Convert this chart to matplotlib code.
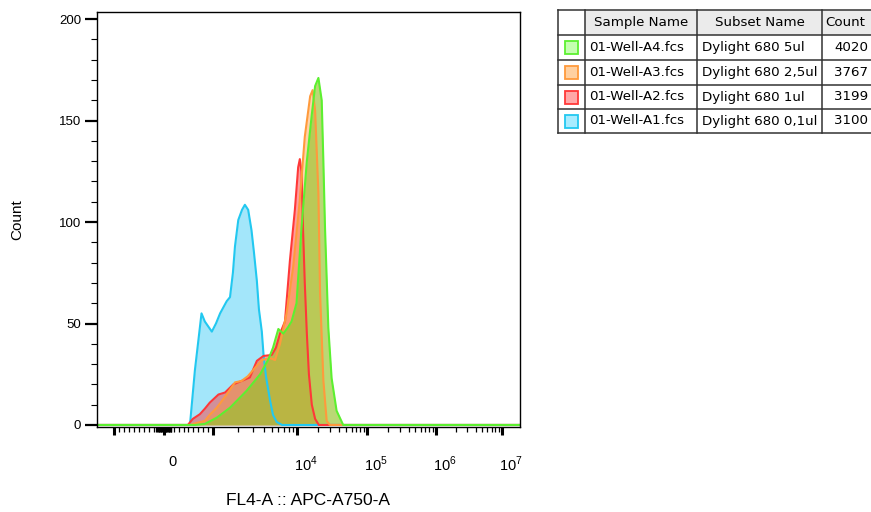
import numpy as np
import matplotlib.pyplot as plt
from matplotlib.transforms import ScaledTranslation
from matplotlib.patches import Rectangle

plt.rcParams['font.family'] = ['Liberation Sans', 'DejaVu Sans']
plt.rcParams['mathtext.fontset'] = 'custom'
plt.rcParams['mathtext.rm'] = 'Liberation Sans'

# x values are display channels (0-1024) of the biexponential FL4-A axis
a1_x = [0, 225, 237, 253, 261, 278, 288, 298, 314, 322, 329, 334, 342, 351, 358, 366, 374, 380, 387, 392, 399, 403, 409, 419, 426, 435, 448, 1024]
a1_y = [0, 0, 27, 55, 51, 46, 50, 55, 61, 63, 75, 88, 101, 106, 108.5, 106, 96, 85, 71, 57, 46, 35, 24, 12, 5, 1.5, 0, 0]

a2_x = [0, 220, 232, 249, 261, 273, 294, 310, 330, 350, 370, 387, 403, 423, 433, 443, 455, 467, 479, 487, 491, 495, 499, 503, 508, 513, 520, 528, 537, 1024]
a2_y = [0, 0, 3, 5.3, 8, 11, 15, 16, 20, 21.7, 23.4, 31.6, 34, 34.5, 38, 45, 51, 81, 106, 127, 131, 125, 95, 70, 45, 25, 10, 3, 0, 0]

a3_x = [0, 225, 242, 261, 273, 290, 314, 334, 350, 365, 382, 399, 419, 431, 443, 459, 475, 491, 503, 516, 522, 528, 536, 540, 548, 556, 564, 1024]
a3_y = [0, 0, 1, 2, 5, 8.5, 15, 21, 21.7, 24, 28, 32, 33, 32, 40, 55, 78, 111, 142, 162, 165, 155, 114, 65, 22, 2, 0, 0]

a4_x = [0, 237, 261, 290, 322, 362, 395, 415, 426, 439, 451, 462, 471, 483, 495, 508, 520, 528, 536, 544, 548, 552, 560, 568, 580, 596, 1024]
a4_y = [0, 0, 0.5, 3.6, 8.5, 16.8, 25, 32.4, 38, 47.3, 45, 48, 51, 60, 97, 130, 153, 167, 171, 160, 130, 97, 48, 23, 7, 0, 0]

samples = ['01-Well-A4.fcs', '01-Well-A3.fcs', '01-Well-A2.fcs', '01-Well-A1.fcs']
subsets = ['Dylight 680 5ul', 'Dylight 680 2,5ul', 'Dylight 680 1ul', 'Dylight 680 0,1ul']
counts = [4020, 3767, 3199, 3100]
line_colors = ['#5CF030', '#FF9A3C', '#FF3838', '#22C8F0']
fill_colors = ['#96C42C', '#FF9632', '#FF3C3C', '#40CCF5']
fill_alpha = [0.65, 0.42, 0.5, 0.48]
swatch_colors = ['#C4FFB0', '#FFD0A0', '#FFA8A8', '#A8ECFF']

# biexponential axis: major ticks (-10^3, 0, 10^3 ... 10^7) in channels
major_ch = [41, 162, 281, 484, 654, 821, 980]
major_labels = ['', '0', '', '$10^4$', '$10^5$', '$10^6$', '$10^7$']

minor_ch = list(np.linspace(41, 162, 11)[1:-1]) + list(np.linspace(162, 281, 11)[1:-1])
minor_ch += list(np.arange(144, 182, 2))
for lo, hi in zip(major_ch[2:-1], major_ch[3:]):
    minor_ch += [lo + (hi - lo) * np.log10(k) for k in range(2, 10)]

fig = plt.figure(figsize=(8.71, 5.12), dpi=100)
ax = fig.add_axes([97 / 871, 1 - 427 / 512, 423 / 871, 415 / 512])

series = [(a1_x, a1_y, 3), (a2_x, a2_y, 2), (a3_x, a3_y, 1), (a4_x, a4_y, 0)]
for x, y, i in series:
    ax.fill_between(x, y, 0, color=fill_colors[i], alpha=fill_alpha[i], lw=0)
    ax.plot(x, y, color=line_colors[i], lw=1.5)

ax.set_xlim(0, 1024)
ax.set_ylim(-1, 203.5)
ax.set_xticks(major_ch)
ax.set_xticklabels(major_labels, fontsize=10.5)
ax.set_xticks(minor_ch, minor=True)
ax.set_yticks([0, 50, 100, 150, 200])
ax.set_yticks(np.arange(0, 201, 10), minor=True)
ax.tick_params(axis='y', which='major', length=8.5, width=1.6, labelsize=9.5, pad=3)
ax.tick_params(axis='y', which='minor', length=4.5, width=0.8)
ax.tick_params(axis='x', which='major', length=6, width=2.2, pad=14)
ax.tick_params(axis='x', which='minor', length=3.5, width=0.9)
off = ScaledTranslation(0.09, 0, fig.dpi_scale_trans)
for lab in ax.get_xticklabels():
    lab.set_transform(lab.get_transform() + off)
for s in ax.spines.values():
    s.set_linewidth(1.0)

ax.set_ylabel('Count', fontsize=11)
ax.yaxis.set_label_coords(-0.172, 0.5)
ax.set_xlabel('FL4-A :: APC-A750-A', fontsize=12.5)
ax.xaxis.set_label_coords(0.5, -0.16)

# legend table
tb = fig.add_axes([558 / 871, 1 - 133 / 512, 330 / 871, 123 / 512])
tb.set_xlim(0, 330)
tb.set_ylim(123, 0)
tb.axis('off')
rows = [0, 25, 50, 75, 99, 123]
cols = [0, 27, 139, 264, 330]
tb.add_patch(Rectangle((27, 0), 303, 25, color='#EBEBEB', lw=0))
for r in rows:
    tb.plot([0, 330], [r, r], color='#333333', lw=1.1, clip_on=False)
for c in cols:
    tb.plot([c, c], [0, 123], color='#333333', lw=1.1, clip_on=False)
tfont = dict(fontsize=9.6, family='DejaVu Sans', va='center')
tb.text(83, 12.5, 'Sample Name', ha='center', **tfont)
tb.text(201.5, 12.5, 'Subset Name', ha='center', **tfont)
tb.text(267, 12.5, 'Count', ha='left', **tfont)
for i in range(4):
    ym = (rows[i + 1] + rows[i + 2]) / 2
    tb.add_patch(Rectangle((6.5, ym - 6.5), 13, 13, facecolor=swatch_colors[i], edgecolor=line_colors[i], lw=1.3))
    tb.text(31, ym, samples[i], ha='left', **tfont)
    tb.text(144, ym, subsets[i], ha='left', **tfont)
    tb.text(310, ym, str(counts[i]), ha='right', **tfont)

plt.savefig('out.png', dpi=100)
